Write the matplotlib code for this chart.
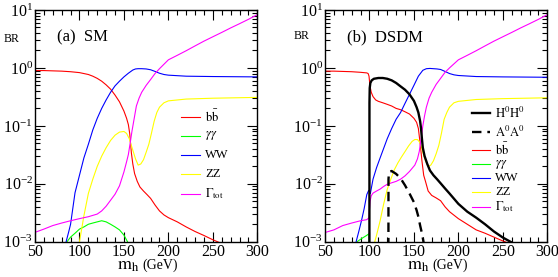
import matplotlib
matplotlib.use("Agg")
import matplotlib.pyplot as plt
from matplotlib.lines import Line2D
from matplotlib.ticker import LogLocator, MultipleLocator, NullFormatter

plt.rcParams['font.family'] = ['Liberation Serif', 'DejaVu Serif']
plt.rcParams['mathtext.fontset'] = 'stix'

# ---------------- data: SM ----------------
sm_bb_m = [50, 60, 70, 80, 90, 100, 110, 115, 120, 125, 130, 135, 140, 145, 150, 153, 155, 156.5, 158.4, 160, 162, 165,
           168, 172, 176, 180, 185, 190, 195, 200, 210, 220, 230, 240, 250, 260, 280, 300]
sm_bb_br = [0.9, 0.9, 0.89, 0.88, 0.86, 0.83, 0.77, 0.72, 0.66, 0.59, 0.51, 0.43, 0.34, 0.26, 0.18, 0.135, 0.105, 0.074,
            0.034, 0.022, 0.015, 0.011, 0.0088, 0.0075, 0.0065, 0.0056, 0.0043, 0.0034, 0.0029, 0.0026, 0.0022, 0.0018,
            0.0015, 0.00128, 0.00108, 0.00093, 0.00078, 0.00066]

sm_ww_m = [83, 85, 88, 90, 95, 100, 105, 110, 115, 120, 125, 130, 135, 140, 145, 150, 155, 160, 163, 166, 170, 175, 180,
           185, 190, 195, 200, 220, 250, 300]
sm_ww_br = [0.0007, 0.001, 0.0015, 0.002, 0.007, 0.014, 0.028, 0.048, 0.085, 0.135, 0.2, 0.28, 0.38, 0.49, 0.59, 0.70,
            0.81, 0.92, 0.96, 0.97, 0.97, 0.96, 0.93, 0.87, 0.81, 0.77, 0.75, 0.72, 0.71, 0.70]

sm_zz_m = [99, 100, 102, 105, 110, 115, 120, 125, 130, 135, 140, 145, 150, 153, 156, 160, 163, 166, 169, 172, 175, 178,
           181, 184, 187, 190, 195, 200, 220, 250, 300]
sm_zz_br = [0.0007, 0.001, 0.0015, 0.0028, 0.0068, 0.012, 0.02, 0.03, 0.042, 0.056, 0.069, 0.078, 0.08, 0.074, 0.06,
            0.038, 0.027, 0.021, 0.022, 0.026, 0.035, 0.048, 0.075, 0.12, 0.17, 0.21, 0.25, 0.27, 0.29, 0.30, 0.31]

sm_aa_m = [84, 86, 90, 95, 100, 105, 110, 115, 120, 125, 130, 135, 140, 145, 150, 154, 156]
sm_aa_br = [0.0008, 0.001, 0.0012, 0.0014, 0.00165, 0.0018, 0.002, 0.0021, 0.0022, 0.0023, 0.0022, 0.002, 0.0018,
            0.0016, 0.0013, 0.001, 0.0008]

sm_gam_m = [50, 60, 70, 80, 90, 100, 110, 120, 125, 130, 135, 140, 145, 150, 153, 155, 157, 159, 161, 164, 167, 170,
            175, 180, 185, 190, 200, 210, 220, 230, 240, 250, 260, 270, 280, 290, 300]
sm_gam_br = [0.00145, 0.00165, 0.0019, 0.0021, 0.0023, 0.0025, 0.0027, 0.003, 0.0034, 0.0041, 0.0052, 0.0066, 0.0092,
             0.016, 0.024, 0.032, 0.05, 0.08, 0.12, 0.22, 0.3, 0.38, 0.5, 0.63, 0.8, 0.97, 1.38, 1.65, 1.98, 2.4, 2.9,
             3.45, 4.1, 4.9, 5.8, 6.9, 8.3]

# ---------------- data: DSDM ----------------
ds_hh_m = [99.9, 100.0, 100.3, 101, 102.5, 105, 110, 115, 120, 125, 130, 135, 140, 145, 150, 153, 155, 157, 158, 159,
           160, 162, 165, 168, 172, 176, 180, 185, 190, 200, 210, 220, 230, 240, 250, 260, 270]
ds_hh_br = [1e-5, 0.25, 0.45, 0.55, 0.61, 0.65, 0.67, 0.67, 0.65, 0.61, 0.55, 0.48, 0.42, 0.35, 0.27, 0.21, 0.17, 0.12,
            0.09, 0.06, 0.042, 0.03, 0.022, 0.017, 0.014, 0.012, 0.0102, 0.0083, 0.0068, 0.0045, 0.0033, 0.0026,
            0.002, 0.0015, 0.00118, 0.00097, 0.0008]

ds_a0_m = [121.2, 121.4, 122, 125, 130, 135, 140, 145, 150, 153, 155, 157, 159, 161, 162]
ds_a0_br = [1e-5, 0.012, 0.016, 0.0166, 0.0148, 0.0124, 0.0094, 0.0068, 0.0048, 0.0035, 0.0027, 0.0019, 0.0014,
            0.00095, 0.0007]

ds_bb_m = [50, 60, 70, 80, 90, 97, 98.5, 99.5, 100, 100.7, 102, 104, 107, 110, 115, 120, 125, 130, 135, 140, 145, 150,
           153, 155, 157, 159, 161, 163, 166, 170, 175, 180, 185, 190, 200, 210, 220, 230, 240, 250, 260, 280, 300]
ds_bb_br = [0.88, 0.88, 0.87, 0.86, 0.84, 0.82, 0.8, 0.72, 0.6, 0.48, 0.38, 0.32, 0.28, 0.265, 0.25, 0.235, 0.22, 0.2,
            0.19, 0.175, 0.16, 0.135, 0.115, 0.09, 0.05, 0.025, 0.014, 0.011, 0.0075, 0.0063, 0.0057, 0.0051, 0.004,
            0.0033, 0.0025, 0.002, 0.0016, 0.0014, 0.0012, 0.00103, 0.0009, 0.00075, 0.00063]

ds_ww_m = [83, 85, 88, 91, 94, 97, 98.8, 99.5, 100.3, 101, 104, 108, 112, 116, 120, 125, 130, 135, 140, 145, 150, 155,
           160, 164, 168, 172, 176, 180, 185, 190, 195, 200, 220, 250, 300]
ds_ww_br = [0.0007, 0.001, 0.0015, 0.0023, 0.0037, 0.0065, 0.0075, 0.0077, 0.007, 0.0068, 0.012, 0.019, 0.028, 0.041,
            0.06, 0.09, 0.13, 0.17, 0.245, 0.35, 0.5, 0.72, 0.91, 0.97, 0.98, 0.97, 0.96, 0.94, 0.87, 0.8, 0.76, 0.74,
            0.71, 0.70, 0.69]

ds_zz_m = [104, 106, 108, 112, 116, 120, 124, 128, 132, 136, 140, 144, 148, 151, 154, 157, 160, 163, 166, 169, 172, 175,
           178, 181, 184, 187, 190, 195, 200, 220, 250, 300]
ds_zz_br = [0.0006, 0.001, 0.0013, 0.0023, 0.0045, 0.008, 0.012, 0.0175, 0.023, 0.029, 0.036, 0.045, 0.054, 0.058,
            0.058, 0.051, 0.035, 0.025, 0.020, 0.021, 0.025, 0.033, 0.046, 0.075, 0.13, 0.17, 0.21, 0.25, 0.265, 0.285,
            0.295, 0.305]

ds_aa_m = [84, 86, 90, 93, 96, 99.5, 99.95]
ds_aa_br = [0.00085, 0.001, 0.0011, 0.00118, 0.00126, 0.00137, 1e-5]

ds_gam_m = [50, 60, 70, 80, 90, 97, 99.5, 100, 100.7, 102, 104, 108, 112, 116, 120, 125, 130, 135, 140, 145, 148, 151,
            154, 156, 158, 160, 162, 164, 167, 170, 175, 180, 185, 190, 200, 210, 220, 230, 240, 250, 260, 270, 280,
            290, 300]
ds_gam_br = [0.00144, 0.0016, 0.0019, 0.0021, 0.0023, 0.0024, 0.0026, 0.0036, 0.005, 0.0062, 0.0069, 0.0075, 0.0081,
             0.009, 0.0098, 0.0104, 0.011, 0.012, 0.0137, 0.0163, 0.0185, 0.021, 0.027, 0.036, 0.058, 0.1, 0.15, 0.21,
             0.3, 0.38, 0.52, 0.66, 0.84, 1.0, 1.38, 1.65, 1.98, 2.4, 2.9, 3.45, 4.1, 4.9, 5.8, 6.9, 8.3]

xticks = [50, 100, 150, 200, 250, 300]

# ---------------- figure ----------------
W, H = 558, 277
fig = plt.figure(figsize=(W / 100, H / 100), dpi=100)


def fx(px):
    return px / W


def fy(py):
    return 1 - py / H


RED, GREEN, BLUE, YEL, MAG = '#ff0000', '#00ff00', '#0000ff', '#ffff00', '#ff00ff'
LW = 0.8


def setup(ax):
    ax.set_yscale('log')
    ax.set_xlim(50, 300)
    ax.set_ylim(1e-3, 10)
    ax.set_xticks(xticks)
    ax.xaxis.set_minor_locator(MultipleLocator(10))
    ax.yaxis.set_major_locator(LogLocator(base=10, numticks=10))
    ax.yaxis.set_minor_locator(LogLocator(base=10, subs=range(2, 10), numticks=50))
    ax.yaxis.set_minor_formatter(NullFormatter())
    ax.tick_params(which='both', direction='in', top=True, right=True, width=0.8, labelsize=11.5)
    ax.tick_params(which='major', length=7, pad=2)
    ax.tick_params(which='minor', length=3.6)
    ax.tick_params(axis='y', pad=1.5)
    for s in ax.spines.values():
        s.set_linewidth(1.0)


def legend(entries, x0, x1, xt, ys):
    for (color, ls, lw, label), y in zip(entries, ys):
        fig.add_artist(Line2D([fx(x0), fx(x1)], [fy(y), fy(y)], color=color, ls=ls, lw=lw,
                              transform=fig.transFigure))
        fig.text(fx(xt), fy(y), label, fontsize=9, va='center', ha='left')


# ---- left: SM ----
axL = fig.add_axes([fx(35), fy(241.7), fx(222.3), 231.7 / H])
setup(axL)
axL.plot(sm_bb_m, sm_bb_br, color=RED, lw=LW)
axL.plot(sm_aa_m, sm_aa_br, color=GREEN, lw=LW)
axL.plot(sm_ww_m, sm_ww_br, color=BLUE, lw=LW)
axL.plot(sm_zz_m, sm_zz_br, color=YEL, lw=LW)
axL.plot(sm_gam_m, sm_gam_br, color=MAG, lw=LW)

# ---- right: DSDM ----
axR = fig.add_axes([fx(325), fy(241.7), fx(222.3), 231.7 / H])
setup(axR)
axR.plot(ds_bb_m, ds_bb_br, color=RED, lw=LW)
axR.plot(ds_aa_m, ds_aa_br, color=GREEN, lw=LW)
axR.plot(ds_ww_m, ds_ww_br, color=BLUE, lw=LW)
axR.plot(ds_zz_m, ds_zz_br, color=YEL, lw=LW)
axR.plot(ds_gam_m, ds_gam_br, color=MAG, lw=LW)
axR.plot(ds_hh_m, ds_hh_br, color='black', lw=1.7)
axR.plot(ds_a0_m, ds_a0_br, color='black', lw=1.7, dashes=(4, 2.5))

common = [(RED, '-', LW, r'$\mathrm{b\bar{b}}$'),
          (GREEN, '-', LW, r'$\gamma\gamma$'),
          (BLUE, '-', LW, 'WW'),
          (YEL, '-', LW, 'ZZ'),
          (MAG, '-', LW, r'$\Gamma_{\mathrm{tot}}$')]
legend(common, 181, 199.5, 205, [116.7, 135.7, 155, 174, 194])
legend([('black', '-', 1.7, r'$\mathrm{H^0H^0}$'), ('black', (0, (4, 2.5)), 1.7, r'$\mathrm{A^0A^0}$')] + common,
       471.7, 490, 495, [113.3, 132.3, 150, 164.3, 178.3, 192.3, 206.7])

# ---- texts ----
for off, tag in ((0, '(a)  SM'), (290, '(b)  DSDM')):
    fig.text(fx(57 + off), fy(37), tag, fontsize=12, va='center', ha='left')
    fig.text(fx(4 + off), fy(39 if off == 0 else 36), 'BR', fontsize=8.5, va='center', ha='left')
    fig.text(fx(117 + off), fy(266), r'$\mathrm{m_h}$', fontsize=13, va='center', ha='left')
    fig.text(fx(142 + off), fy(265.5), '(GeV)', fontsize=10, va='center', ha='left')

fig.savefig('out.png', dpi=100)
